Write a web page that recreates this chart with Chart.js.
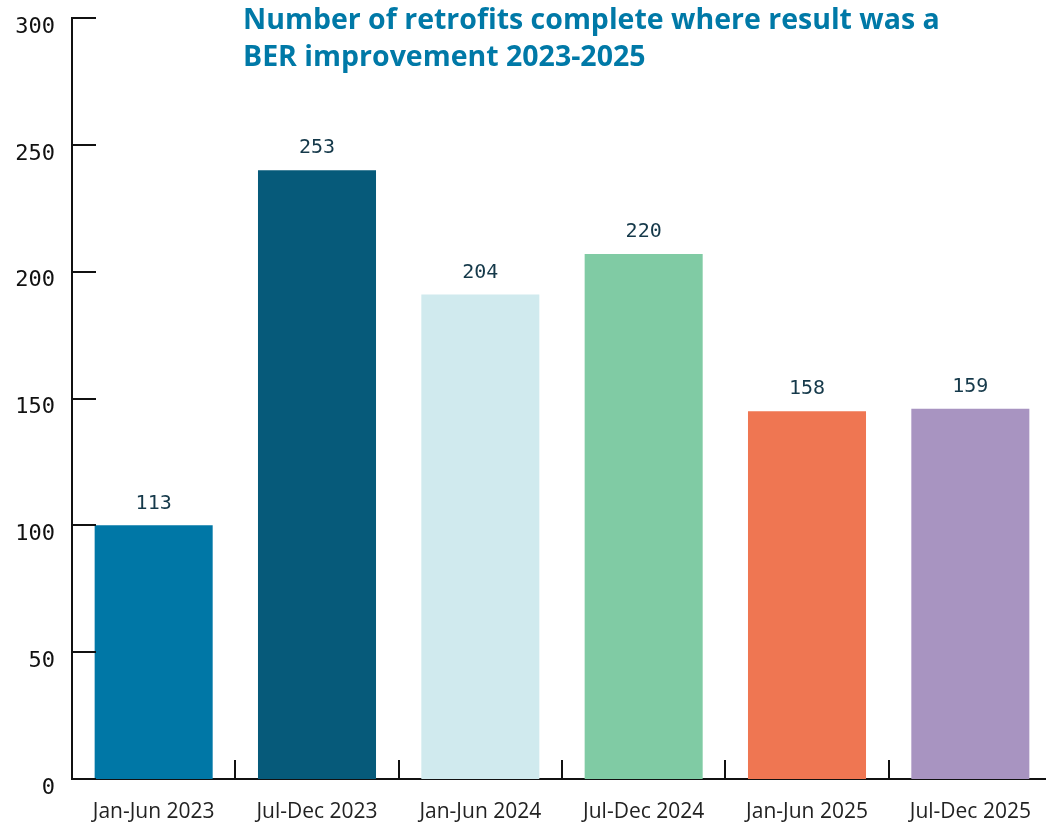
<!DOCTYPE html>
<html>
<head>
<meta charset="utf-8">
<script src="https://cdn.jsdelivr.net/npm/chart.js@4"></script>
<style>
    html, body { margin: 0; padding: 0; background: #fff; overflow: hidden; }
    #wrap { position: relative; width: 1046px; height: 824px; }
    #chart { position: absolute; left: 0; top: 0; }
    #title {
        position: absolute; left: 243px; top: 0px;
        font-family: "Open Sans", "Noto Sans", sans-serif;
        font-weight: 700; font-size: 28.5px; line-height: 37px;
        color: #0079a7; white-space: nowrap;
    }
</style>
</head>
<body>
<div id="wrap">
    <canvas id="chart" width="1052" height="824"></canvas>
    <div id="title">Number of retrofits complete where result was a<br>BER improvement 2023-2025</div>
</div>
<script>
//Bar heights as drawn in the picture; the printed labels above them
//carry different numbers, so both are kept.
const CATEGORIES = ['Jan-Jun 2023', 'Jul-Dec 2023', 'Jan-Jun 2024', 'Jul-Dec 2024', 'Jan-Jun 2025', 'Jul-Dec 2025'];
const BAR_VALUES = [100, 240, 191, 207, 145, 146];
const LABEL_VALUES = [113, 253, 204, 220, 158, 159];
const BAR_COLORS = ['#0077a6', '#065a7a', '#d0eaee', '#80cba4', '#ef7652', '#a894c1'];
const Y_TICKS = [0, 50, 100, 150, 200, 250, 300];

const MONO = '"DejaVu Sans Mono", monospace';

//Inner tick marks: y ticks point right into the plot, x ticks sit
//on the category boundaries and point up.
const innerTicks = {
    id: 'inner-ticks',
    afterDraw(chart)
    {
        const ctx = chart.ctx;
        const xs = chart.scales.x;
        const ys = chart.scales.y;
        const area = chart.chartArea;
        ctx.save();
        ctx.strokeStyle = '#111';
        ctx.lineWidth = 2;
        ctx.beginPath();
        Y_TICKS.forEach((v) =>
        {
            const y = Math.round(ys.getPixelForValue(v));
            ctx.moveTo(area.left, y);
            ctx.lineTo(area.left + 24, y);
        });
        for (let i = 1; i < CATEGORIES.length; i++)
        {
            const x = Math.round((xs.getPixelForValue(i - 1) + xs.getPixelForValue(i)) / 2);
            ctx.moveTo(x, area.bottom);
            ctx.lineTo(x, area.bottom - 19);
        }
        ctx.stroke();
        ctx.restore();
    },
};

const barLabels = {
    id: 'bar-labels',
    afterDatasetsDraw(chart)
    {
        const ctx = chart.ctx;
        const meta = chart.getDatasetMeta(0);
        ctx.save();
        ctx.font = '20px ' + MONO;
        ctx.fillStyle = '#15394a';
        ctx.textAlign = 'center';
        ctx.textBaseline = 'middle';
        meta.data.forEach((bar, i) =>
        {
            ctx.fillText(String(LABEL_VALUES[i]), bar.x, bar.y - 22);
        });
        ctx.restore();
    },
};

new Chart(document.getElementById('chart'), {
    type: 'bar',
    data: {
        labels: CATEGORIES,
        datasets: [{
            data: BAR_VALUES,
            backgroundColor: BAR_COLORS,
            borderWidth: 0,
            barPercentage: 0.7226,
            categoryPercentage: 1,
        }],
    },
    options: {
        responsive: false,
        animation: false,
        layout: { padding: { top: 18, right: 0, left: 0, bottom: 0 } },
        plugins: {
            legend: { display: false },
            tooltip: { enabled: false },
        },
        scales: {
            x: {
                grid: { display: false, drawTicks: false },
                border: { color: '#111', width: 2 },
                ticks: {
                    color: '#222',
                    padding: 20,
                    maxRotation: 0,
                    font: { family: '"Open Sans", "Noto Sans", sans-serif', size: 21 },
                },
                afterFit(scale) { scale.height = 45; },
            },
            y: {
                min: 0,
                max: 300,
                afterBuildTicks(scale) { scale.ticks = Y_TICKS.map((v) => ({ value: v })); },
                grid: { display: false, drawTicks: false },
                border: { color: '#111', width: 2 },
                ticks: {
                    color: '#111',
                    padding: 17,
                    labelOffset: 9,
                    font: { family: MONO, size: 22 },
                },
                afterFit(scale)
                {
                    scale.width = 72;
                    scale.paddingTop = 0;
                    scale.paddingBottom = 0;
                },
            },
        },
    },
    plugins: [innerTicks, barLabels],
});
</script>
</body>
</html>
